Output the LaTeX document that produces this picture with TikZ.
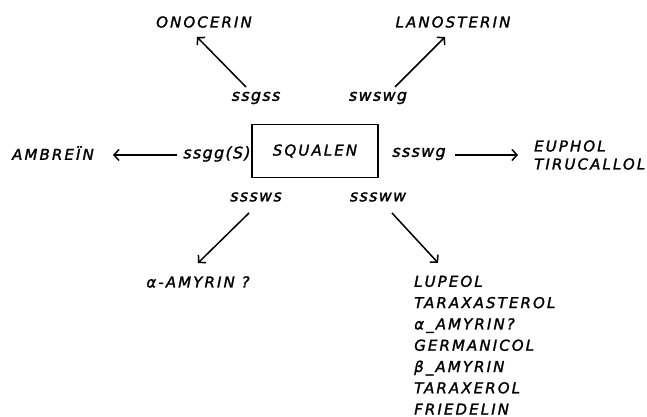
\documentclass[tikz,border=0pt]{standalone}
\usepackage{fontspec}
\newfontfamily\handfont{DejaVu Sans}[LetterSpace=14, FakeBold=1.6]
\newfontfamily\codefont{DejaVu Sans}[LetterSpace=8, FakeBold=1.4]
\usetikzlibrary{calc,arrows.meta}

\tikzset{
  lbl/.style={font=\handfont\itshape\fontsize{15}{18}\selectfont, inner sep=1pt},
  code/.style={font=\codefont\itshape\fontsize{16}{18}\selectfont, inner sep=1pt},
  arr/.style={line width=1.5pt, -{Straight Barb[length=5pt,width=11pt]}},
}

\begin{document}
\begin{tikzpicture}[x=1pt,y=-1pt]
  \useasboundingbox (0,0) rectangle (647,417);

  % the starting compound
  \node[lbl, draw, line width=1.8pt, minimum width=126pt, minimum height=53pt] (squalen) at (315,151) {SQUALEN};

  % folding patterns round the box
  \node[code] (ssgss) at (256,98) {ssgss};
  \node[code] (swswg) at (378,98) {swswg};
  \node[code] (ssgg) at (217,154) {ssgg(S)};
  \node[code] (ssswg) at (419,154) {ssswg};
  \node[code] (sssws) at (256,197) {sssws};
  \node[code] (sssww) at (378,197) {sssww};

  % the products
  \node[lbl] (onocerin) at (204,22) {ONOCERIN};
  \node[lbl] (lanosterin) at (453,22) {LANOSTERIN};
  \node[lbl] (ambrein) at (53,153) {AMBREÏN};
  \node[lbl, align=left, anchor=west] (euphol) at (533,155) {EUPHOL\\TIRUCALLOL};
  \node[lbl] (amyrin) at (198,282) {α-AMYRIN ?};
  \foreach \name [count=\i] in {LUPEOL, TARAXASTEROL, α\_AMYRIN?, GERMANICOL,
      β\_AMYRIN, TARAXEROL, FRIEDELIN}
    \node[lbl, anchor=base west] (list\i) at (413,265.5+21.3*\i) {\name};

  % the arrows
  \draw[arr] ($(ssgss)+(-10,-11)$) -- ($(onocerin)+(-7,15)$);
  \draw[arr] ($(swswg)+(17,-11)$) -- ($(lanosterin)+(-8,15)$);
  \draw[arr] ($(ssgg)+(-40,1)$) -- ($(ambrein)+(60,2)$);
  \draw[arr] ($(ssswg)+(36,1)$) -- ($(euphol.west)+(-15,0)$);
  \draw[arr] ($(sssws)+(-7,16)$) -- ($(amyrin)+(0,-19)$);
  \draw[arr] ($(sssww)+(14,16)$) -- ($(list1.base west)+(25,-24)$);
\end{tikzpicture}
\end{document}
